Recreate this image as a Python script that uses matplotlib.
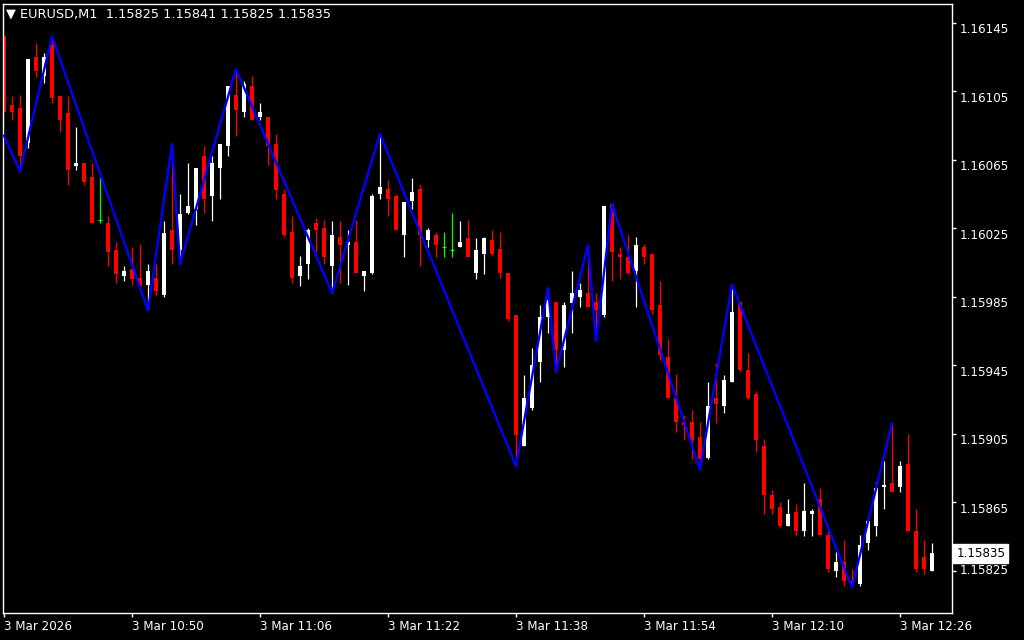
import matplotlib
matplotlib.use("Agg")
import matplotlib.pyplot as plt
import matplotlib.transforms as mtransforms
import numpy as np

# EURUSD M1 candles, 10:34 .. 12:30
opens = [1.16137, 1.16097, 1.16095, 1.16075, 1.16125, 1.16114, 1.16132, 1.16102, 1.16092, 1.16061,
         1.16063, 1.16055, 1.16030, 1.16028, 1.16012, 1.15997, 1.16001, 1.15996, 1.15992, 1.15996,
         1.15986, 1.16024, 1.16012, 1.16034, 1.16036, 1.16067, 1.16044, 1.16060, 1.16073, 1.16103,
         1.16093, 1.16108, 1.16090, 1.16090, 1.16074, 1.16045, 1.16023, 1.15997, 1.16004, 1.16028,
         1.16025, 1.16003, 1.16020, 1.16015, 1.16017, 1.15997, 1.15999, 1.16045, 1.16048, 1.16044,
         1.16021, 1.16041, 1.16048, 1.16018, 1.16021, 1.16014, 1.16012, 1.16014, 1.16019, 1.15999,
         1.16010, 1.16018, 1.16013, 1.15999, 1.15974, 1.15898, 1.15920, 1.15947, 1.15973, 1.15982,
         1.15954, 1.15981, 1.15985, 1.15987, 1.15982, 1.15974, 1.16039, 1.16010, 1.16008, 1.16000,
         1.16014, 1.16010, 1.15980, 1.15950, 1.15926, 1.15912, 1.15912, 1.15903, 1.15891, 1.15926,
         1.15921, 1.15935, 1.15982, 1.15942, 1.15928, 1.15898, 1.15869, 1.15862, 1.15851, 1.15859,
         1.15848, 1.15858, 1.15867, 1.15846, 1.15825, 1.15830, 1.15819, 1.15817, 1.15841, 1.15851,
         1.15874, 1.15876, 1.15874, 1.15887, 1.15848, 1.15833, 1.15825]
highs = [1.16138, 1.16102, 1.16103, 1.16124, 1.16133, 1.16127, 1.16137, 1.16102, 1.16102, 1.16084,
         1.16063, 1.16063, 1.16054, 1.16032, 1.16017, 1.16003, 1.16014, 1.16016, 1.16004, 1.16004,
         1.16029, 1.16074, 1.16045, 1.16063, 1.16060, 1.16073, 1.16067, 1.16074, 1.16108, 1.16118,
         1.16111, 1.16114, 1.16098, 1.16090, 1.16080, 1.16048, 1.16032, 1.16009, 1.16025, 1.16031,
         1.16030, 1.16029, 1.16029, 1.16024, 1.16030, 1.16000, 1.16045, 1.16080, 1.16053, 1.16045,
         1.16040, 1.16054, 1.16050, 1.16025, 1.16023, 1.16023, 1.16034, 1.16029, 1.16030, 1.16019,
         1.16020, 1.16024, 1.16023, 1.15999, 1.15974, 1.15939, 1.15955, 1.15980, 1.15990, 1.15982,
         1.15982, 1.16000, 1.15993, 1.16015, 1.15987, 1.16038, 1.16039, 1.16014, 1.16021, 1.16020,
         1.16016, 1.16010, 1.15994, 1.15960, 1.15940, 1.15916, 1.15919, 1.15912, 1.15935, 1.15946,
         1.15939, 1.15992, 1.15982, 1.15952, 1.15930, 1.15902, 1.15872, 1.15865, 1.15867, 1.15864,
         1.15876, 1.15861, 1.15873, 1.15848, 1.15836, 1.15843, 1.15826, 1.15846, 1.15855, 1.15877,
         1.15889, 1.15911, 1.15889, 1.15905, 1.15861, 1.15843, 1.15841]
lows = [1.16093, 1.16088, 1.16058, 1.16072, 1.16113, 1.16110, 1.16098, 1.16081, 1.16050, 1.16059,
        1.16050, 1.16028, 1.16028, 1.16003, 1.15993, 1.15994, 1.15992, 1.15990, 1.15977, 1.15986,
        1.15985, 1.16004, 1.16004, 1.16033, 1.16027, 1.16034, 1.16029, 1.16042, 1.16067, 1.16079,
        1.16090, 1.16088, 1.16088, 1.16062, 1.16042, 1.16020, 1.15993, 1.15991, 1.15995, 1.16011,
        1.16004, 1.15987, 1.15993, 1.15992, 1.15999, 1.15988, 1.15998, 1.16042, 1.16032, 1.16024,
        1.16008, 1.16036, 1.16003, 1.16014, 1.16008, 1.16008, 1.16008, 1.16014, 1.16008, 1.15995,
        1.15998, 1.16009, 1.15996, 1.15971, 1.15886, 1.15898, 1.15919, 1.15935, 1.15964, 1.15941,
        1.15944, 1.15964, 1.15979, 1.15979, 1.15959, 1.15973, 1.15994, 1.15995, 1.15998, 1.15979,
        1.16004, 1.15975, 1.15948, 1.15926, 1.15906, 1.15901, 1.15890, 1.15884, 1.15890, 1.15911,
        1.15917, 1.15935, 1.15941, 1.15925, 1.15894, 1.15858, 1.15858, 1.15850, 1.15851, 1.15846,
        1.15845, 1.15845, 1.15846, 1.15824, 1.15821, 1.15816, 1.15815, 1.15816, 1.15837, 1.15845,
        1.15861, 1.15871, 1.15871, 1.15848, 1.15824, 1.15823, 1.15825]
closes = [1.16093, 1.16093, 1.16067, 1.16124, 1.16117, 1.16125, 1.16101, 1.16088, 1.16059, 1.16063,
          1.16052, 1.16028, 1.16030, 1.16011, 1.15998, 1.16000, 1.15995, 1.15991, 1.16000, 1.15988,
          1.16022, 1.16012, 1.16033, 1.16038, 1.16060, 1.16042, 1.16063, 1.16074, 1.16108, 1.16094,
          1.16109, 1.16088, 1.16093, 1.16073, 1.16047, 1.16021, 1.15996, 1.16003, 1.16024, 1.16024,
          1.16008, 1.16021, 1.16015, 1.16017, 1.15999, 1.16000, 1.16044, 1.16049, 1.16042, 1.16024,
          1.16040, 1.16046, 1.16021, 1.16024, 1.16015, 1.16014, 1.16012, 1.16017, 1.16008, 1.16012,
          1.16019, 1.16010, 1.15999, 1.15972, 1.15904, 1.15926, 1.15945, 1.15973, 1.15983, 1.15954,
          1.15980, 1.15987, 1.15989, 1.15979, 1.15977, 1.16038, 1.16011, 1.16008, 1.15999, 1.16015,
          1.16008, 1.15977, 1.15951, 1.15926, 1.15912, 1.15910, 1.15901, 1.15890, 1.15921, 1.15922,
          1.15936, 1.15976, 1.15942, 1.15926, 1.15901, 1.15869, 1.15861, 1.15851, 1.15858, 1.15848,
          1.15860, 1.15860, 1.15846, 1.15826, 1.15830, 1.15819, 1.15817, 1.15840, 1.15854, 1.15873,
          1.15875, 1.15871, 1.15886, 1.15848, 1.15826, 1.15826, 1.15835]

# ZigZag turning points (bar index, price)
zz_bars = [0, 2, 6, 18, 21, 22, 29, 41, 47, 64, 68, 69, 73, 74, 76, 87, 91, 106, 111]
zz_prices = [1.16079, 1.16058, 1.16137, 1.15977, 1.16074, 1.16004, 1.16118, 1.15987, 1.16080,
             1.15886, 1.15990, 1.15941, 1.16015, 1.15959, 1.16039, 1.15884, 1.15992, 1.15815, 1.15911]

price_ticks = [1.16145, 1.16105, 1.16065, 1.16025, 1.15985, 1.15945, 1.15905, 1.15865, 1.15825]
time_tick_bars = [0, 16, 32, 48, 64, 80, 96, 112]
time_labels = ["3 Mar 2026", "3 Mar 10:50", "3 Mar 11:06", "3 Mar 11:22",
               "3 Mar 11:38", "3 Mar 11:54", "3 Mar 12:10", "3 Mar 12:26"]
last_price = 1.15835

o = np.array(opens)
h = np.array(highs)
l = np.array(lows)
c = np.array(closes)
x = np.arange(len(o))

fig = plt.figure(figsize=(10.24, 6.4), dpi=100, facecolor="black")
ax = fig.add_axes([3 / 1024, 27 / 640, 949 / 1024, 609 / 640], facecolor="black")

bull = c > o
bear = c < o
doji = c == o
w = 0.6

# bullish candles - white
ax.vlines(x[bull], l[bull], h[bull], color="white", lw=0.9, zorder=2)
ax.bar(x[bull], c[bull] - o[bull], bottom=o[bull], width=w, color="white", linewidth=0, zorder=2)
# bearish candles - red
ax.vlines(x[bear], l[bear], h[bear], color="#ff0000", lw=0.9, zorder=2)
ax.bar(x[bear], o[bear] - c[bear], bottom=c[bear], width=w, color="#ff0000", linewidth=0, zorder=2)
# doji - green cross
ax.vlines(x[doji], l[doji], h[doji], color="#00ff00", lw=0.9, zorder=2)
ax.hlines(o[doji], x[doji] - w / 2, x[doji] + w / 2, color="#00ff00", lw=0.9, zorder=2)

# zigzag
ax.plot(zz_bars, zz_prices, color="#0000ff", lw=1.7, zorder=3)

ax.set_xlim(-0.125, 118.5)
ax.set_ylim(1.158002, 1.161559)

for s in ax.spines.values():
    s.set_color("white")
    s.set_linewidth(1)

# price scale on the right (MT4 prints the labels a bit under the tick)
ax.yaxis.tick_right()
ax.set_yticks(price_ticks)
ax.set_yticklabels([])
ax.tick_params(axis="y", colors="white", length=3, width=1)
trans = mtransforms.blended_transform_factory(ax.transAxes, ax.transData)
for i, p in enumerate(price_ticks):
    dy = -7 / 100 if i < len(price_ticks) - 1 else 0
    t = trans + mtransforms.ScaledTranslation(0, dy, fig.dpi_scale_trans)
    ax.text(1.0084, p, "%.5f" % p, transform=t, ha="left", va="center",
            fontsize=8.6, color="white", clip_on=False)

ax.set_xticks(time_tick_bars)
ax.set_xticklabels(time_labels, ha="left")
ax.tick_params(axis="x", colors="white", labelsize=8.6, length=3, width=1, pad=2)

# current price box
ax.text(1.0045, last_price, "%.5f" % last_price, transform=trans, ha="left", va="center",
        fontsize=8.6, color="black", clip_on=False, zorder=5,
        bbox=dict(boxstyle="square,pad=0.25", facecolor="white", edgecolor="white"))

fig.text(6 / 1024, 1 - 14 / 640, "\u25bc EURUSD,M1  1.15825 1.15841 1.15825 1.15835",
         color="white", fontsize=9.3, va="center", ha="left")

fig.savefig("out.png", dpi=100, facecolor="black")
